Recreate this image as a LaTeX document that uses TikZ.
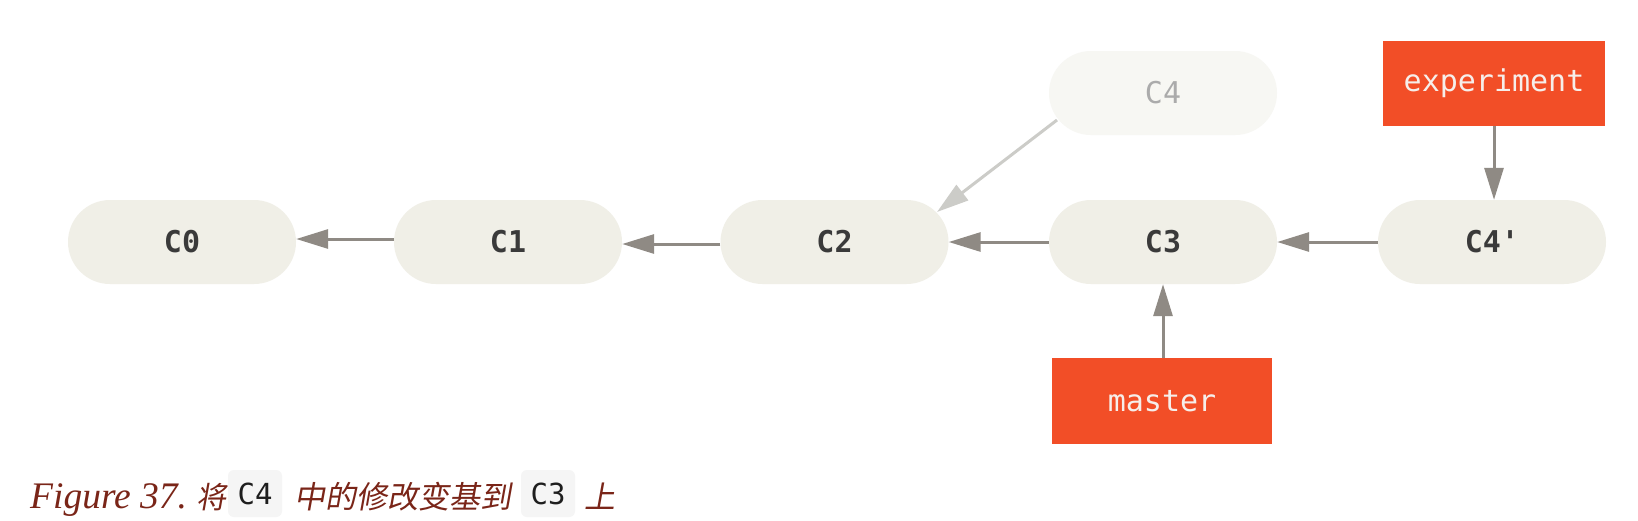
\documentclass[tikz,border=0pt]{standalone}
\usepackage{fontspec}
\setmainfont{Liberation Serif}
\setmonofont{DejaVu Sans Mono}
\newfontfamily\cjk[FakeSlant=0.18]{Noto Sans CJK SC}
\usetikzlibrary{arrows.meta,calc}
\definecolor{commitfill}{HTML}{F0EFE7}
\definecolor{fadefill}{HTML}{F7F7F3}
\definecolor{fadetext}{HTML}{ABABAB}
\definecolor{committext}{HTML}{3A3A3A}
\definecolor{arrowcol}{HTML}{8F8A84}
\definecolor{fadearrow}{HTML}{CCCCC8}
\definecolor{branchred}{HTML}{F24E27}
\definecolor{branchtext}{HTML}{F6EEEA}
\definecolor{capred}{HTML}{7A2518}
\definecolor{codebg}{HTML}{F5F5F5}
\definecolor{codetext}{HTML}{1E1E1E}
\begin{document}
\begin{tikzpicture}[x=1pt,y=-1pt,
  commit/.style={rectangle,rounded corners=42pt,fill=commitfill,minimum width=228pt,minimum height=84pt,inner sep=0pt,
    text=committext,font=\fontsize{30}{30}\selectfont\ttfamily\bfseries},
  fadecommit/.style={commit,fill=fadefill,text=fadetext,font=\fontsize{30}{30}\selectfont\ttfamily},
  branch/.style={rectangle,fill=branchred,minimum width=222pt,minimum height=85pt,inner sep=0pt,
    text=branchtext,font=\fontsize{30}{30}\selectfont\ttfamily},
  parent/.style={draw=arrowcol,line width=3pt,-{Triangle[length=32pt,width=19pt]}},
  fadeparent/.style={parent,draw=fadearrow},
  captext/.style={anchor=base west,inner sep=0pt,text=capred},
  codebox/.style={rectangle,rounded corners=6pt,fill=codebg,minimum width=54pt,minimum height=47pt,inner sep=0pt,
    text=codetext,font=\fontsize{29}{29}\selectfont\ttfamily}]
\useasboundingbox (0,0) rectangle (1638,520);
\fill[white] (0,0) rectangle (1638,520);
% commits
\node[commit] (C0) at (182,242) {C0};
\node[commit] (C1) at (508,242) {C1};
\node[commit] (C2) at (834.5,242) {C2};
\node[commit] (C3) at (1163,242) {C3};
\node[commit] (C4p) at (1492,242) {C4'};
\node[fadecommit] (C4) at (1163,93) {C4};
% branches
\node[branch] (experiment) at (1494,83.5) {experiment};
\node[branch,minimum width=220pt,minimum height=86pt] (master) at (1162,401) {master};
% connectors
\draw[parent] ([yshift=3pt]C1.west) -- ([yshift=3pt]C0.east);
\draw[parent] ([yshift=-2pt]C2.west) -- ([yshift=-2pt]C1.east);
\draw[parent] (C3.west) -- (C2.east);
\draw[parent] (C4p.west) -- (C3.east);
\draw[fadeparent] ($(C4.center)+(-106,27)$) -- ($(C2.center)+(102.5,-30)$);
\draw[parent] (experiment.south) -- (experiment.south |- C4p.north);
\draw[parent] (master.north -| C3.south) -- (C3.south);
% caption
\node[captext,font=\fontsize{37.5}{37.5}\selectfont\itshape] (figlabel) at (30,508) {Figure 37.};
\node[captext,font=\fontsize{30}{30}\selectfont\cjk] (cap1) at (196,508) {将};
\node[codebox] (codeA) at (255,493.5) {C4};
\node[captext,font=\fontsize{31}{31}\selectfont\cjk] (cap2) at (294,508) {中的修改变基到};
\node[codebox] (codeB) at (548,493.5) {C3};
\node[captext,font=\fontsize{31}{31}\selectfont\cjk] (cap3) at (584,508) {上};
\end{tikzpicture}
\end{document}
